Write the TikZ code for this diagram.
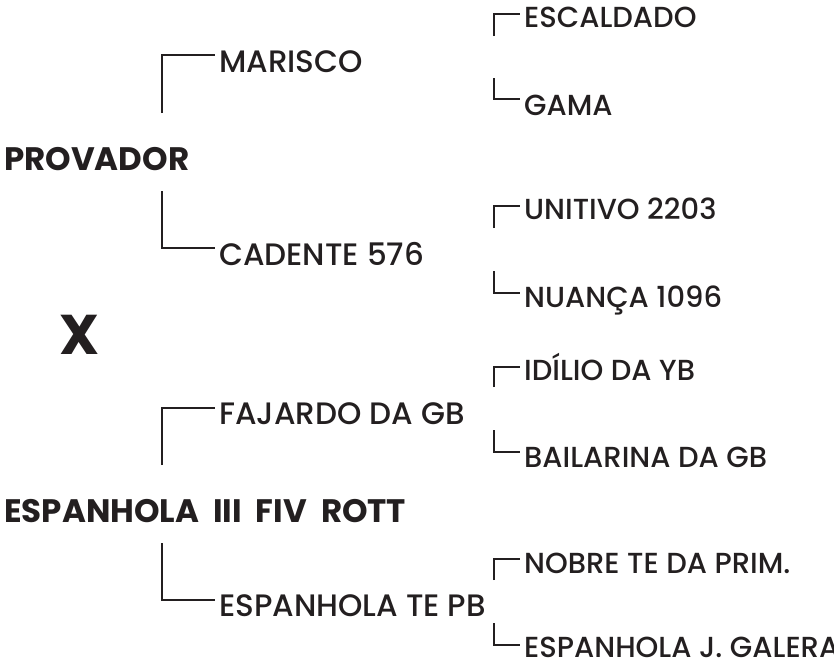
\documentclass[tikz,border=0pt]{standalone}
\usepackage{fontspec}
\setmainfont{Poppins}[UprightFont={* Medium}, BoldFont={* Bold}]
\definecolor{ink}{HTML}{231F20}
\newcommand\widewordspace{\spaceskip 14pt plus 2pt minus 2pt\relax}
\tikzset{
  lbl/.style={anchor=base west, inner sep=0pt, text=ink, font=\fontsize{31}{31}\selectfont},
  lblsm/.style={lbl, font=\fontsize{29}{29}\selectfont},
  lblbold/.style={lbl, font=\fontsize{32.5}{32.5}\selectfont\bfseries},
  brk/.style={draw=ink, line width=2pt},
}
\begin{document}
\begin{tikzpicture}[x=1pt,y=-1pt]
\useasboundingbox (0,0) rectangle (834,665);
% parents
\node[lblbold] (prov) at (4,170) {PROVADOR};
\node[lblbold] (esp) at (4,522) {\widewordspace ESPANHOLA III FIV ROTT};
\node[lbl, font=\fontsize{56}{56}\selectfont\bfseries] (x) at (59,354) {X};
% grandparents
\node[lbl] (mar) at (219,72) {MARISCO};
\node[lbl] (cad) at (219,265) {CADENTE 576};
\node[lbl] (faj) at (219,424) {FAJARDO DA GB};
\node[lbl] (etp) at (219,616) {ESPANHOLA TE PB};
% great-grandparents
\node[lblsm] (esc) at (524,27) {ESCALDADO};
\node[lblsm] (gam) at (524,115) {GAMA};
\node[lblsm] (uni) at (524,219) {UNITIVO 2203};
\node[lblsm] (nua) at (524,307) {NUANÇA 1096};
\node[lblsm] (idi) at (524,380) {IDÍLIO DA YB};
\node[lblsm] (bai) at (524,467) {BAILARINA DA GB};
\node[lblsm] (nob) at (524,573) {NOBRE TE DA PRIM.};
\node[lblsm] (gal) at (524,657) {ESPANHOLA J. GALERA};
% bracket end points
\coordinate (marA) at (162,113); \coordinate (marB) at (215,55);
\coordinate (cadA) at (162,191); \coordinate (cadB) at (215,248);
\coordinate (fajA) at (162,465); \coordinate (fajB) at (215,408);
\coordinate (etpA) at (162,543); \coordinate (etpB) at (215,600);
\coordinate (escA) at (494,36);  \coordinate (escB) at (520,14);
\coordinate (gamA) at (494,78);  \coordinate (gamB) at (520,99);
\coordinate (uniA) at (494,228); \coordinate (uniB) at (520,206);
\coordinate (nuaA) at (494,271); \coordinate (nuaB) at (520,293);
\coordinate (idiA) at (494,387); \coordinate (idiB) at (520,367);
\coordinate (baiA) at (494,430); \coordinate (baiB) at (520,452);
\coordinate (nobA) at (494,580); \coordinate (nobB) at (520,559);
\coordinate (galA) at (494,623); \coordinate (galB) at (520,645);
\foreach \n in {mar,cad,faj,etp,esc,gam,uni,nua,idi,bai,nob,gal}
  \draw[brk] (\n A) |- (\n B);
\end{tikzpicture}
\end{document}
